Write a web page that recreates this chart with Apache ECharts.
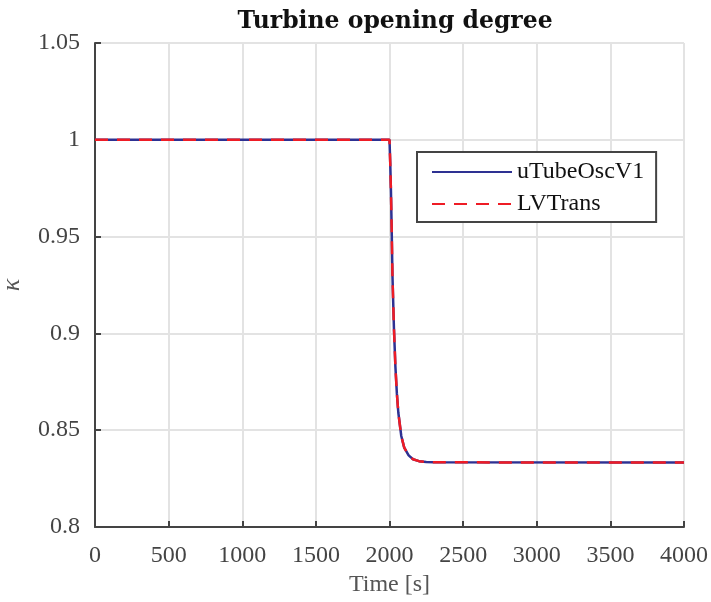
<!DOCTYPE html>
<html><head><meta charset="utf-8">
<script src="https://cdn.jsdelivr.net/npm/echarts@6/dist/echarts.min.js"></script>
<style>html,body{margin:0;padding:0;background:#fff}#c{width:711px;height:602px}</style>
</head><body><div id="c"></div>
<script>
const title = 'Turbine opening degree';
const xName = 'Time [s]';
const yName = 'κ';
const seriesNames = ['uTubeOscV1', 'LVTrans'];
const time = [0, 2000, 2005, 2010, 2015, 2020, 2030, 2040, 2050, 2060, 2080, 2100, 2130, 2160, 2200, 2250, 2300, 4000];
const uTubeOscV1 = [1.0, 1.0, 0.988, 0.973, 0.953, 0.930, 0.903, 0.883, 0.869, 0.859, 0.847, 0.841, 0.837, 0.835, 0.834, 0.8336, 0.8334, 0.8333];
const LVTrans = [1.0, 1.0, 0.988, 0.973, 0.953, 0.930, 0.903, 0.883, 0.869, 0.859, 0.847, 0.841, 0.837, 0.835, 0.834, 0.8336, 0.8334, 0.8333];

const font = '"Liberation Serif", "DejaVu Serif", serif';
const chart = echarts.init(document.getElementById('c'), null, {renderer: 'canvas'});
const pairs = a => time.map((t, i) => [t, a[i]]);
chart.setOption({
  animation: false,
  backgroundColor: '#fff',
  title: {text: title, left: 390, top: 5, textAlign: 'center',
    textStyle: {fontFamily: '"DejaVu Serif", serif', fontSize: 23.5, fontWeight: 'bold', color: '#111'}},
  grid: {left: 95, right: 27, top: 43, bottom: 75, containLabel: false, outerBoundsMode: 'none'},
  xAxis: {type: 'value', min: 0, max: 4000, interval: 500,
    name: xName, nameLocation: 'middle', nameGap: 43,
    nameTextStyle: {fontFamily: font, fontSize: 24, color: '#555'},
    axisLine: {show: true, lineStyle: {color: '#444', width: 2}},
    axisTick: {show: true, inside: true, length: 6, lineStyle: {color: '#444', width: 2}},
    axisLabel: {fontFamily: font, fontSize: 24, color: '#444', margin: 17, formatter: v => String(v)},
    splitLine: {show: true, lineStyle: {color: '#e3e3e3', width: 2}}},
  yAxis: {type: 'value', min: 0.8, max: 1.05, interval: 0.05,
    name: yName, nameLocation: 'middle', nameGap: 70, nameRotate: 90,
    nameTextStyle: {fontFamily: font, fontSize: 26, fontStyle: 'italic', color: '#555'},
    axisLine: {show: true, lineStyle: {color: '#444', width: 2}},
    axisTick: {show: true, inside: true, length: 6, lineStyle: {color: '#444', width: 2}},
    axisLabel: {fontFamily: font, fontSize: 24, color: '#444', margin: 15},
    splitLine: {show: true, lineStyle: {color: '#e3e3e3', width: 2}}},
  legend: {orient: 'vertical', left: 417, top: 152,
    padding: [8, 12, 6, 14], itemGap: 8, itemWidth: 80, itemHeight: 22,
    borderColor: '#444', borderWidth: 2, backgroundColor: '#fff',
    itemStyle: {opacity: 0},
    textStyle: {fontFamily: font, fontSize: 24, color: '#111'},
    data: seriesNames},
  series: [
    {name: seriesNames[0], type: 'line', data: pairs(uTubeOscV1), showSymbol: false, symbol: 'none',
      lineStyle: {color: '#2e3192', width: 2.5}, itemStyle: {color: '#2e3192'}},
    {name: seriesNames[1], type: 'line', data: pairs(LVTrans), showSymbol: false, symbol: 'none',
      lineStyle: {color: '#ee1c25', width: 2.5, type: [13, 9]}, itemStyle: {color: '#ee1c25'}}
  ]
});
</script></body></html>
